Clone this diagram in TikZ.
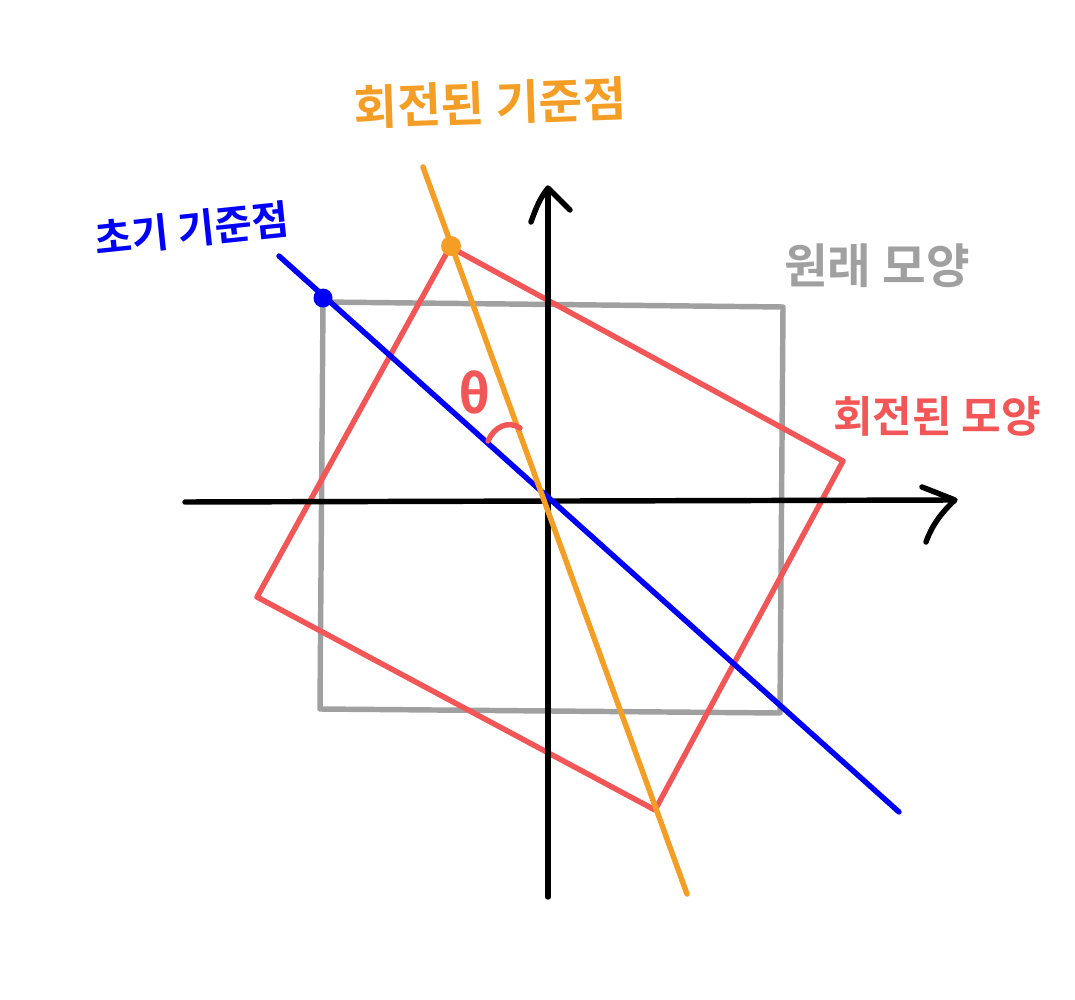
\documentclass[tikz,border=0pt]{standalone}
\usepackage{fontspec}
\newfontfamily\kr{Noto Sans CJK KR}[BoldFont={* Bold}]
\definecolor{cOrange}{RGB}{244,158,38}
\definecolor{cRed}{RGB}{242,86,86}
\definecolor{cGray}{RGB}{160,160,160}
\definecolor{cBlue}{RGB}{0,0,250}
\begin{document}
\begin{tikzpicture}[x=0.02cm,y=-0.02cm,
  stroke/.style={line width=3.1pt,line cap=round,line join=round},
  lbl/.style={font=\kr\bfseries, inner sep=0pt}]
\useasboundingbox (0,0) rectangle (1075,1000);
% coordinates
\coordinate (xa) at (185,502);
\coordinate (xb) at (952,500);
\coordinate (ya) at (548,897);
\coordinate (yb) at (548,190);
\coordinate (g1) at (323,302);
\coordinate (g2) at (783,307);
\coordinate (g3) at (780,713);
\coordinate (g4) at (320,709);
\coordinate (r1) at (450,247);
\coordinate (r2) at (843,461);
\coordinate (r3) at (655,810);
\coordinate (r4) at (257,597);
\coordinate (bl1) at (279,256);
\coordinate (bl2) at (899,812);
\coordinate (or1) at (423,167);
\coordinate (or2) at (687,894);
% gray square
\draw[stroke,cGray] (g1) -- (g2) -- (g3) -- (g4) -- cycle;
% red rotated square
\draw[stroke,cRed] (r1) -- (r2) -- (r3) -- (r4) -- cycle;
% axes
\draw[stroke,black] (xa) -- (xb);
\draw[stroke,black] (922,487) -- (955,500) .. controls (942,512) and (932,525) .. (926,542);
\draw[stroke,black] (ya) -- (yb);
\draw[stroke,black] (531,222) .. controls (536,208) and (540,198) .. (548,188) -- (570,210);
% blue line
\draw[stroke,cBlue] (bl1) -- (bl2);
\fill[cBlue] (323,298) circle (9.5);
% orange line
\draw[stroke,cOrange] (or1) -- (or2);
\fill[cOrange] (451,246) circle (10);
% theta arc
\draw[stroke,cRed] (488,441) .. controls (494,427) and (508,420) .. (520,428);
\node[lbl,text=cRed,font=\fontsize{30}{34}\kr\bfseries] (theta) at (475,392) {θ};
% labels
\node[lbl,text=cOrange,font=\fontsize{27}{32}\kr\bfseries,rotate=2] (lo) at (490,103) {회전된 기준점};
\node[lbl,text=cBlue,font=\fontsize{23}{28}\kr\bfseries,rotate=6] (lb) at (192,229) {초기 기준점};
\node[lbl,text=cGray,font=\fontsize{27}{32}\kr\bfseries] (lg) at (877,266) {원래 모양};
\node[lbl,text=cRed,font=\fontsize{24.5}{29}\kr\bfseries] (lr) at (937,416) {회전된 모양};
\end{tikzpicture}
\end{document}
